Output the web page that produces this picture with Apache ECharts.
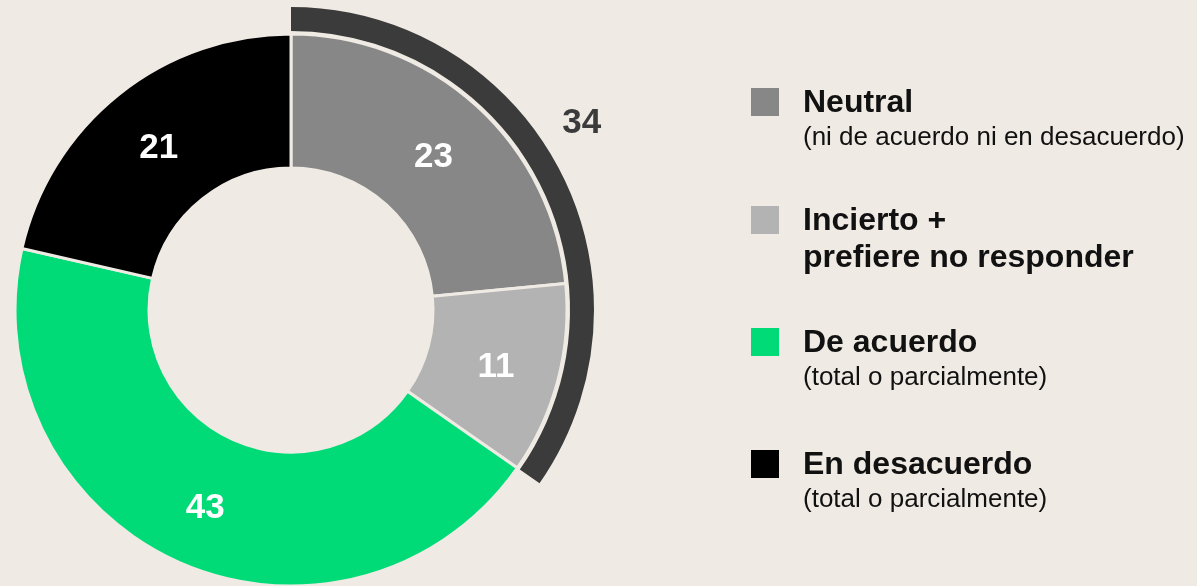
<!DOCTYPE html>
<html>
<head>
<meta charset="utf-8">
<script src="https://cdn.jsdelivr.net/npm/echarts@6/dist/echarts.min.js"></script>
<style>
  html, body { margin: 0; padding: 0; background: #efebe4; }
  #chart { width: 1197px; height: 586px; }
</style>
</head>
<body>
<div id="chart"></div>
<script>
// ---- data ----
var categories = ['Neutral', 'Incierto + prefiere no responder', 'De acuerdo', 'En desacuerdo'];
var values = [23, 11, 43, 21];
var colors = ['#878787', '#b3b3b3', '#00db78', '#000000'];
var legendTitles = [['Neutral'], ['Incierto +', 'prefiere no responder'], ['De acuerdo'], ['En desacuerdo']];
var legendSubtitles = ['(ni de acuerdo ni en desacuerdo)', '', '(total o parcialmente)', '(total o parcialmente)'];
var groupLabel = 'Neutral + Incierto';
var groupValue = 34; // Neutral + Incierto
var groupColor = '#3b3b3b';

// ---- build ----
var bg = '#efebe4';
var total = values.reduce(function (a, b) { return a + b; }, 0);
var font = 'Liberation Sans, Arial, Helvetica, sans-serif';

var pieData = categories.map(function (c, i) {
  return { name: c, value: values[i], itemStyle: { color: colors[i] } };
});

var outerData = [
  { name: groupLabel, value: groupValue, itemStyle: { color: groupColor },
    label: { show: true, position: 'inside', offset: [30, -51], color: groupColor,
      fontSize: 35, fontWeight: 'bold', fontFamily: font, formatter: '{c}' } },
  { name: 'rest', value: total - groupValue, itemStyle: { color: 'transparent' }, label: { show: false } }
];

// legend as graphic elements built from arrays
var legendX = 751, textX = 803, iconSize = 28;
var iconCenters = [102, 220, 342, 464];
var titleLineGap = 37;
var graphics = [];
categories.forEach(function (c, i) {
  var cy = iconCenters[i];
  graphics.push({
    type: 'rect', left: legendX, top: cy - iconSize / 2,
    shape: { width: iconSize, height: iconSize },
    style: { fill: colors[i] }, silent: true
  });
  var titleCy = cy + 1;
  legendTitles[i].forEach(function (line, k) {
    graphics.push({
      type: 'text', x: textX, y: titleCy + k * titleLineGap,
      style: { text: line, fill: '#111111', font: 'bold 32px ' + font,
        textAlign: 'left', textVerticalAlign: 'middle', verticalAlign: 'middle' },
      silent: true
    });
  });
  if (legendSubtitles[i]) {
    graphics.push({
      type: 'text', x: textX, y: titleCy + 35,
      style: { text: legendSubtitles[i], fill: '#111111', font: '26px ' + font,
        textAlign: 'left', textVerticalAlign: 'middle', verticalAlign: 'middle' },
      silent: true
    });
  }
});

var chart = echarts.init(document.getElementById('chart'), null, { renderer: 'canvas' });
chart.setOption({
  backgroundColor: bg,
  animation: false,
  graphic: graphics,
  series: [
    {
      type: 'pie',
      center: [291, 310],
      radius: [142, 276],
      startAngle: 90,
      clockwise: true,
      avoidLabelOverlap: false,
      silent: true,
      itemStyle: { borderColor: bg, borderWidth: 3 },
      label: { show: true, position: 'inside', formatter: '{c}', color: '#ffffff',
        fontSize: 35, fontWeight: 'bold', fontFamily: font, offset: [0, 4] },
      labelLine: { show: false },
      data: pieData
    },
    {
      type: 'pie',
      center: [291, 310],
      radius: [279, 303],
      startAngle: 90,
      clockwise: true,
      silent: true,
      avoidLabelOverlap: false,
      labelLine: { show: false },
      data: outerData
    }
  ]
});
</script>
</body>
</html>
